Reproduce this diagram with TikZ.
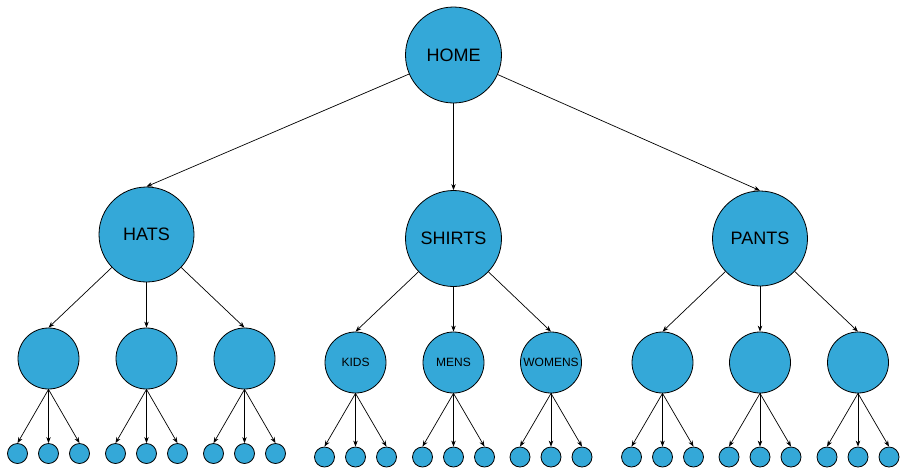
\documentclass[tikz,border=0pt]{standalone}
\usepackage{fontspec}
\setmainfont{Liberation Sans}
\usetikzlibrary{arrows.meta}

\definecolor{nodeblue}{RGB}{52,168,216}

\tikzset{
  pagenode/.style={circle, draw=black, line width=0.8pt, fill=nodeblue, inner sep=0pt, text=black},
  bignode/.style={pagenode, minimum size=96pt, font=\fontsize{18}{18}\selectfont},
  midnode/.style={pagenode, minimum size=61pt, font=\fontsize{12}{12}\selectfont},
  leafnode/.style={pagenode, minimum size=20pt},
  link/.style={line width=0.7pt, -{Stealth[length=6pt,width=4.5pt]}}
}

\begin{document}
\begin{tikzpicture}[x=1pt, y=-1pt, line cap=round, line join=round]

		\useasboundingbox (0,0) rectangle (907,475);

		% Top page
		\node[bignode] (home) at (453.5,55) {HOME};

		% Category pages
		\node[bignode, minimum size=95pt] (hats) at (146.5,234.5) {HATS};
		\node[bignode] (shirts) at (453.5,238.5) {SHIRTS};
		\node[bignode, minimum size=95pt] (pants) at (760,238.5) {PANTS};

		% Sub-category pages
		\node[midnode] (hatsa) at (48.5,358.5) {};
		\node[midnode] (hatsb) at (146.5,358.5) {};
		\node[midnode] (hatsc) at (244.5,358.5) {};
		\node[midnode] (kids) at (355.5,362.5) {KIDS};
		\node[midnode] (mens) at (453.5,362.5) {MENS};
		\node[midnode] (womens) at (551,362.5) {WOMENS};
		\node[midnode] (pantsa) at (662.5,362.5) {};
		\node[midnode] (pantsb) at (760,362.5) {};
		\node[midnode] (pantsc) at (858,362.5) {};

		% Links from the top page
		\draw[link] (home) -- (hats.north);
		\draw[link] (home) -- (shirts.north);
		\draw[link] (home) -- (pants.north);

		% Links to the sub-category pages
		\draw[link] (hats) -- (hatsa.north);
		\draw[link] (hats) -- (hatsb.north);
		\draw[link] (hats) -- (hatsc.north);
		\draw[link] (shirts) -- (kids.north);
		\draw[link] (shirts) -- (mens.north);
		\draw[link] (shirts) -- (womens.north);
		\draw[link] (pants) -- (pantsa.north);
		\draw[link] (pants) -- (pantsb.north);
		\draw[link] (pants) -- (pantsc.north);

		% Product pages under each sub-category
		\foreach \parent/\y in {hatsa/453.5, hatsb/453.5, hatsc/453.5,
		                        kids/457, mens/457, womens/457,
		                        pantsa/457, pantsb/457, pantsc/457} {
			\path (\parent.center) coordinate (\parent-c);
			\foreach \side/\dx in {l/-31, m/0, r/31} {
				\node[leafnode] (\parent-\side) at ([xshift=\dx pt]\parent-c |- 0,\y) {};
				\draw[link] (\parent.south) -- (\parent-\side.north);
			}
		}

	\end{tikzpicture}
\end{document}
